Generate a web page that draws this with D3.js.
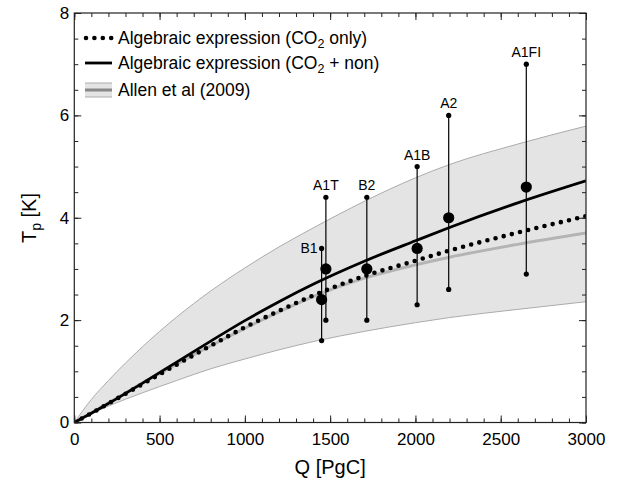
<!DOCTYPE html>
<html lang="en">
<head>
<meta charset="UTF-8">
<title>Tp vs Q</title>
<script src="https://d3js.org/d3.v7.min.js"></script>
<style>
  body { margin: 0; background: #fff; }
  svg { display: block; font-family: "Liberation Sans", Arial, Helvetica, sans-serif; }
</style>
</head>
<body>
<svg id="chart" width="622" height="485"></svg>
<script>
const qGrid = [0, 100, 200, 400, 600, 800, 1000, 1200, 1400, 1700, 2000, 2200, 2600, 3000];
// algebraic expression, CO2 + non-CO2
const tpAll = [0, 0.18, 0.37, 0.77, 1.18, 1.59, 1.99, 2.36, 2.7, 3.15, 3.55, 3.81, 4.29, 4.72];
// algebraic expression, CO2 only
const tpCO2 = [0, 0.18, 0.37, 0.75, 1.13, 1.5, 1.86, 2.18, 2.48, 2.86, 3.16, 3.36, 3.71, 4.03];
// Allen et al (2009) best estimate and range
const allenMid = [0, 0.19, 0.38, 0.77, 1.14, 1.5, 1.84, 2.16, 2.46, 2.82, 3.08, 3.23, 3.48, 3.7];
const allenHi = [0, 0.45, 0.82, 1.48, 2.06, 2.57, 3.02, 3.43, 3.8, 4.32, 4.78, 5.04, 5.44, 5.79];
const allenLo = [0, 0.17, 0.32, 0.58, 0.82, 1.05, 1.24, 1.42, 1.58, 1.78, 1.95, 2.05, 2.21, 2.36];

// SRES scenarios
const scenarios = ["B1", "A1T", "B2", "A1B", "A2", "A1FI"];
const scenQ = [1450, 1475, 1715, 2010, 2195, 2650];
const scenBest = [2.4, 3.0, 3.0, 3.4, 4.0, 4.6];
const scenLow = [1.6, 2.0, 2.0, 2.3, 2.6, 2.9];
const scenHigh = [3.4, 4.4, 4.4, 5.0, 6.0, 7.0];

const xMajor = [0, 500, 1000, 1500, 2000, 2500, 3000];
const yMajor = [0, 2, 4, 6, 8];

const svg = d3.select("#chart");
const pLeft = 74.3, pRight = 586, pTop = 13, pBottom = 422.5;

const x = d3.scaleLinear().domain([0, 3000]).range([pLeft, pRight]);
const y = d3.scaleLinear().domain([0, 8]).range([pBottom, pTop]);

svg.append("defs").append("clipPath").attr("id", "plot")
  .append("rect").attr("x", pLeft).attr("y", pTop).attr("width", pRight - pLeft).attr("height", pBottom - pTop);

const plot = svg.append("g").attr("clip-path", "url(#plot)");

const pts = arr => qGrid.map((q, i) => [q, arr[i]]);
const line = d3.line().x(d => x(d[0])).y(d => y(d[1])).curve(d3.curveMonotoneX);
const band = d3.area().x((d, i) => x(qGrid[i])).y0(d => y(d[0])).y1(d => y(d[1])).curve(d3.curveMonotoneX);

// Allen range
plot.append("path").datum(allenLo.map((v, i) => [v, allenHi[i]]))
  .attr("fill", "#e4e4e4").attr("d", band);
[allenHi, allenLo].forEach(arr => {
  plot.append("path").datum(pts(arr)).attr("fill", "none")
    .attr("stroke", "#ababab").attr("stroke-width", 1).attr("d", line);
});
plot.append("path").datum(pts(allenMid)).attr("fill", "none")
  .attr("stroke", "#b4b4b4").attr("stroke-width", 3).attr("d", line);

// algebraic curves
plot.append("path").datum(pts(tpCO2)).attr("fill", "none")
  .attr("stroke", "#000").attr("stroke-width", 4.6)
  .attr("stroke-linecap", "round").attr("stroke-dasharray", "0 8.4").attr("d", line);
plot.append("path").datum(pts(tpAll)).attr("fill", "none")
  .attr("stroke", "#000").attr("stroke-width", 2.8).attr("d", line);

// scenario whiskers
const sc = svg.append("g");
scenarios.forEach((name, i) => {
  const cx = x(scenQ[i]);
  sc.append("line").attr("x1", cx).attr("x2", cx)
    .attr("y1", y(scenLow[i])).attr("y2", y(scenHigh[i]))
    .attr("stroke", "#000").attr("stroke-width", 1.2);
  [scenLow[i], scenHigh[i]].forEach(v => {
    sc.append("circle").attr("cx", cx).attr("cy", y(v)).attr("r", 2.6).attr("fill", "#000");
  });
  sc.append("circle").attr("cx", cx).attr("cy", y(scenBest[i])).attr("r", 5.6).attr("fill", "#000");
  const lbl = sc.append("text").attr("font-size", 14).attr("fill", "#000").text(name);
  if (name === "B1") {
    lbl.attr("x", cx - 4).attr("y", y(scenHigh[i]) + 5).attr("text-anchor", "end");
  } else {
    lbl.attr("x", cx).attr("y", y(scenHigh[i]) - 7).attr("text-anchor", "middle");
  }
});

// axes, ticks pointing inward
const minor = d3.range(0, 3001, 100);
const yMinor = d3.range(0, 8.01, 0.5);
function axis(gen, tr, labels) {
  const g = svg.append("g").attr("transform", tr).call(gen);
  g.select(".domain").remove();
  g.selectAll(".tick line").attr("stroke", "#222");
  if (!labels) g.selectAll("text").remove();
  return g;
}
const xb = axis(d3.axisBottom(x).tickValues(xMajor).tickSize(-7).tickPadding(10).tickFormat(d3.format("d")),
  `translate(0,${pBottom})`, true);
axis(d3.axisBottom(x).tickValues(minor).tickSize(-4), `translate(0,${pBottom})`, false);
axis(d3.axisTop(x).tickValues(xMajor).tickSize(-7), `translate(0,${pTop})`, false);
axis(d3.axisTop(x).tickValues(minor).tickSize(-4), `translate(0,${pTop})`, false);
const yl = axis(d3.axisLeft(y).tickValues(yMajor).tickSize(-7).tickPadding(5), `translate(${pLeft},0)`, true);
axis(d3.axisLeft(y).tickValues(yMinor).tickSize(-4), `translate(${pLeft},0)`, false);
axis(d3.axisRight(y).tickValues(yMajor).tickSize(-7), `translate(${pRight},0)`, false);
axis(d3.axisRight(y).tickValues(yMinor).tickSize(-4), `translate(${pRight},0)`, false);
[xb, yl].forEach(g => g.selectAll("text").attr("font-size", 17).attr("fill", "#000")
  .attr("font-family", "Liberation Sans, Arial, sans-serif"));
xb.selectAll("text").attr("dy", "0.71em");

svg.append("rect").attr("x", pLeft).attr("y", pTop).attr("width", pRight - pLeft).attr("height", pBottom - pTop)
  .attr("fill", "none").attr("stroke", "#222").attr("stroke-width", 1.2);

// axis titles
svg.append("text").attr("x", (pLeft + pRight) / 2).attr("y", 474).attr("text-anchor", "middle")
  .attr("font-size", 20).text("Q [PgC]");
const yt = svg.append("text").attr("transform", "translate(36,218) rotate(-90)")
  .attr("text-anchor", "middle").attr("font-size", 20);
yt.append("tspan").text("T");
yt.append("tspan").attr("font-size", 14).attr("dy", 5).text("p");
yt.append("tspan").attr("dy", -5).text(" [K]");

// legend
const leg = svg.append("g");
const legRows = [38, 63, 90];
const lx0 = 85, lx1 = 112, tx = 118;
leg.append("line").attr("x1", lx0 + 1).attr("x2", lx1).attr("y1", legRows[0]).attr("y2", legRows[0])
  .attr("stroke", "#000").attr("stroke-width", 4.6).attr("stroke-linecap", "round").attr("stroke-dasharray", "0 8.4");
leg.append("line").attr("x1", lx0).attr("x2", lx1).attr("y1", legRows[1]).attr("y2", legRows[1])
  .attr("stroke", "#000").attr("stroke-width", 2.8);
leg.append("rect").attr("x", lx0).attr("y", legRows[2] - 7).attr("width", lx1 - lx0).attr("height", 14)
  .attr("fill", "#e4e4e4");
[legRows[2] - 7, legRows[2] + 7].forEach(v => {
  leg.append("line").attr("x1", lx0).attr("x2", lx1).attr("y1", v).attr("y2", v)
    .attr("stroke", "#ababab").attr("stroke-width", 1);
});
leg.append("line").attr("x1", lx0).attr("x2", lx1).attr("y1", legRows[2]).attr("y2", legRows[2])
  .attr("stroke", "#888").attr("stroke-width", 3);

function legText(row, parts) {
  const t = leg.append("text").attr("x", tx).attr("y", row + 6).attr("font-size", 17.5);
  parts.forEach(p => {
    if (p.sub) {
      t.append("tspan").attr("font-size", 12.5).attr("dy", 4).text(p.sub);
    } else {
      t.append("tspan").attr("dy", p.back ? -4 : 0).text(p.s);
    }
  });
}
legText(legRows[0], [{ s: "Algebraic expression (CO" }, { sub: "2" }, { s: " only)", back: true }]);
legText(legRows[1], [{ s: "Algebraic expression (CO" }, { sub: "2" }, { s: " + non)", back: true }]);
legText(legRows[2], [{ s: "Allen et al (2009)" }]);
</script>
</body>
</html>
